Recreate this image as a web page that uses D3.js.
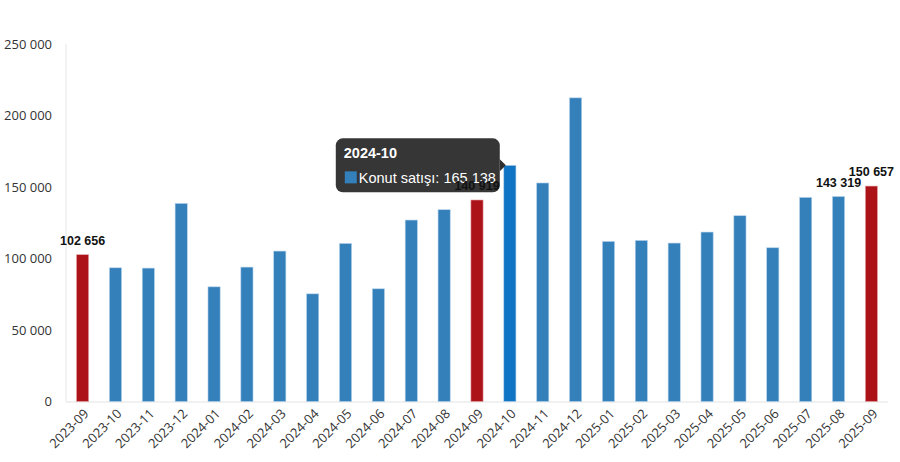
<!DOCTYPE html>
<html><head><meta charset="utf-8">
<script src="https://cdn.jsdelivr.net/npm/d3@7"></script>
<style>body{margin:0;background:#fff}svg{display:block}</style>
</head><body>
<svg id="c" width="900" height="462"></svg>
<script>
const categories = ["2023-09","2023-10","2023-11","2023-12","2024-01","2024-02","2024-03","2024-04","2024-05","2024-06","2024-07","2024-08","2024-09","2024-10","2024-11","2024-12","2025-01","2025-02","2025-03","2025-04","2025-05","2025-06","2025-07","2025-08","2025-09"];
const sales = [102656,93490,93280,138520,80180,93980,105190,75280,110510,78800,126890,134110,140919,165138,152810,212330,111910,112610,110790,118490,129910,107500,142720,143319,150657];
const redMonths = ["2023-09","2024-09","2025-09"];
const labeledMonths = ["2023-09","2024-09","2025-08","2025-09"];
const yTicks = [0,50000,100000,150000,200000,250000];
const seriesName = "Konut satışı";
const hoverMonth = "2024-10";

const svg = d3.select("#c");
const m = {l:66, r:12, t:44, b:60};
const W = 900, H = 462;
const x = d3.scaleBand().domain(categories).range([m.l, W - m.r]).paddingInner(0.63).paddingOuter(0.32);
const y = d3.scaleLinear().domain([0, 250000]).range([401.5, 44]);
const fmt = v => d3.format(",")(v).replace(/,/g, " ");

svg.append("line").attr("x1", m.l).attr("x2", m.l).attr("y1", y(250000)).attr("y2", y(0)).attr("stroke", "#e6e6e6");
svg.append("line").attr("x1", m.l).attr("x2", W - m.r).attr("y1", y(0)+0.5).attr("y2", y(0)+0.5).attr("stroke", "#e3e3e3");

const yAxis = d3.axisLeft(y).tickValues(yTicks).tickSize(0).tickPadding(14).tickFormat(fmt);
const gy = svg.append("g").attr("transform", `translate(${m.l},0)`).call(yAxis);
gy.select(".domain").remove();
gy.selectAll("text").attr("font-family", "'Open Sans', sans-serif").attr("font-size", 13).attr("fill", "#333");

const xAxis = d3.axisBottom(x).tickSize(0).tickPadding(0);
const gx = svg.append("g").attr("transform", `translate(0,${y(0)})`).call(xAxis);
gx.select(".domain").remove();
gx.selectAll("text").attr("font-family", "'Open Sans', sans-serif").attr("font-size", 13).attr("fill", "#333")
  .attr("text-anchor", "end").attr("dy", 0)
  .attr("transform", "translate(7,13) rotate(-45)");

const colorOf = d => redMonths.includes(d) ? "#ab1319" : (d === hoverMonth ? "#0f74c4" : "#3480bb");
const strokeOf = d => redMonths.includes(d) ? "#e5a6a9" : "#b4d1ea";

svg.append("g").selectAll("rect").data(categories).join("rect")
  .attr("x", d => x(d))
  .attr("y", (d,i) => y(sales[i]))
  .attr("width", x.bandwidth())
  .attr("height", (d,i) => y(0) - y(sales[i]))
  .attr("fill", colorOf)
  .attr("stroke", strokeOf).attr("stroke-width", 0.6);

// tooltip
const hi = categories.indexOf(hoverMonth);
const tipRight = x(hoverMonth) - 4;
const tipY = y(sales[hi]);
const tw = 164, th = 54;
const tl = tipRight - tw, tt = tipY - 27;
const tip = svg.append("g");
tip.append("rect").attr("x", tl).attr("y", tt).attr("width", tw).attr("height", th).attr("rx", 7)
  .attr("fill", "#2f2f2f").attr("fill-opacity", 0.97);
tip.append("path").attr("d", `M${tipRight},${tipY-6} L${tipRight+6},${tipY} L${tipRight},${tipY+6} Z`).attr("fill", "#2f2f2f");
tip.append("text").attr("x", tl + 8).attr("y", tt + 20).text(hoverMonth)
  .attr("font-family", "'Liberation Sans', Arial, sans-serif").attr("font-weight", "bold").attr("font-size", 14.5).attr("fill", "#fff");
tip.append("rect").attr("x", tl + 9).attr("y", tt + 33).attr("width", 12).attr("height", 12).attr("fill", "#3480bb");
tip.append("text").attr("x", tl + 23).attr("y", tt + 45).text(`${seriesName}: ${fmt(sales[hi])}`)
  .attr("font-family", "'Liberation Sans', Arial, sans-serif").attr("font-size", 14.5).attr("fill", "#fff");

svg.append("g").selectAll("text").data(categories.filter(d => labeledMonths.includes(d))).join("text")
  .attr("x", d => x(d) + x.bandwidth()/2)
  .attr("y", d => y(sales[categories.indexOf(d)]) - 10)
  .attr("text-anchor", "middle")
  .attr("font-family", "'Liberation Sans', Arial, sans-serif").attr("font-weight", "bold").attr("font-size", 12.5).attr("fill", "#111")
  .text(d => fmt(sales[categories.indexOf(d)]));
</script>
</body></html>
